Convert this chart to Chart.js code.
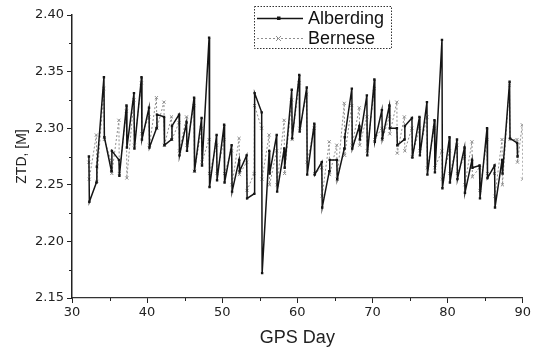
<!DOCTYPE html>
<html>
<head>
<meta charset="utf-8">
<script src="https://cdn.jsdelivr.net/npm/chart.js@4/dist/chart.umd.min.js"></script>
<style>
html,body{margin:0;padding:0;background:#fff;}
#c{display:block;}
</style>
</head>
<body>
<canvas id="c" width="533" height="349"></canvas>
<script>
// ---- data ----
const seriesNames = ["Alberding", "Bernese"];
const xTickLabels = [30, 40, 50, 60, 70, 80, 90];
const yTickLabels = [2.15, 2.20, 2.25, 2.30, 2.35, 2.40];

const albDays = [32,33,34,35,36,37,38,39,40,41,42,43,44,45,46,47,48,49,50,51,52,53,54,55,56,57,58,59,60,61,62,63,64,65,66,67,68,69,70,71,72,73,74,75,76,77,78,79,80,81,82,83,84,85,86,87,88,89];
const albStart = [2.275,2.252,2.345,2.262,2.272,2.320,2.331,2.345,2.318,2.300,2.310,2.290,2.312,2.305,2.327,2.309,2.380,2.294,2.303,2.285,2.272,2.276,2.242,2.314,2.280,2.294,2.282,2.334,2.347,2.336,2.304,2.270,2.262,2.272,2.282,2.335,2.302,2.329,2.343,2.316,2.320,2.300,2.290,2.309,2.310,2.323,2.307,2.378,2.292,2.290,2.283,2.272,2.267,2.300,2.267,2.272,2.341,2.287];
const albEnd   = [2.235,2.266,2.292,2.280,2.258,2.283,2.282,2.290,2.283,2.312,2.285,2.302,2.276,2.280,2.262,2.267,2.248,2.254,2.252,2.244,2.262,2.238,2.331,2.172,2.260,2.244,2.265,2.291,2.297,2.259,2.259,2.230,2.272,2.255,2.292,2.282,2.290,2.276,2.288,2.291,2.300,2.285,2.302,2.274,2.276,2.259,2.261,2.247,2.252,2.255,2.243,2.265,2.238,2.256,2.230,2.260,2.291,2.275];

const berDays = [32,33,34,35,36,37,38,39,40,41,42,43,44,45,46,47,48,49,50,51,52,53,54,55,56,57,58,59,60,61,62,63,64,65,66,67,68,69,70,71,72,73,74,75,76,77,78,79,80,81,82,83,84,85,86,87,88,89,89.7];
const berStart = [2.270,2.294,2.335,2.270,2.307,2.315,2.325,2.340,2.310,2.327,2.323,2.310,2.305,2.310,2.320,2.300,2.290,2.285,2.290,2.280,2.291,2.270,2.260,2.300,2.294,2.280,2.307,2.325,2.340,2.330,2.300,2.265,2.288,2.285,2.322,2.320,2.318,2.310,2.335,2.300,2.310,2.323,2.310,2.300,2.300,2.310,2.300,2.280,2.280,2.285,2.275,2.288,2.265,2.290,2.260,2.290,2.338,2.290,2.303];
const berEnd   = [2.255,2.253,2.290,2.260,2.260,2.256,2.285,2.295,2.285,2.300,2.285,2.290,2.280,2.285,2.262,2.270,2.260,2.260,2.260,2.250,2.259,2.245,2.320,2.255,2.250,2.250,2.260,2.290,2.300,2.270,2.260,2.240,2.259,2.255,2.276,2.285,2.285,2.280,2.290,2.290,2.295,2.278,2.280,2.275,2.280,2.265,2.265,2.255,2.260,2.260,2.250,2.257,2.245,2.260,2.240,2.250,2.290,2.270,2.255];

// ---- build point lists (two samples per day: first and last of the day) ----
function build(days, a, b, off) {
  const pts = [];
  for (let i = 0; i < days.length; i++) {
    pts.push({x: days[i] + off, y: a[i]});
    pts.push({x: days[i] + off + 0.06, y: b[i]});
  }
  return pts;
}
const albPts = build(albDays, albStart, albEnd, 0.25);
const berPts = build(berDays, berStart, berEnd, 0.24);

const ALB = '#151515', BER = '#8e8e8e';

const minorTicks = {
  id: 'minorTicks',
  afterDraw(chart) {
    const ctx = chart.ctx, xs = chart.scales.x, ys = chart.scales.y;
    ctx.save();
    ctx.strokeStyle = '#222';
    ctx.lineWidth = 1;
    for (let i = 0; i < xTickLabels.length - 1; i++) {
      const v = (xTickLabels[i] + xTickLabels[i + 1]) / 2;
      const px = Math.round(xs.getPixelForValue(v)) + 0.5;
      ctx.beginPath(); ctx.moveTo(px, ys.bottom); ctx.lineTo(px, ys.bottom + 3); ctx.stroke();
    }
    for (let i = 0; i < yTickLabels.length - 1; i++) {
      const v = (yTickLabels[i] + yTickLabels[i + 1]) / 2;
      const py = Math.round(ys.getPixelForValue(v)) + 0.5;
      ctx.beginPath(); ctx.moveTo(xs.left, py); ctx.lineTo(xs.left - 3, py); ctx.stroke();
    }
    // legend box
    const bx = 254, by = 6, bw = 137, bh = 42;
    ctx.setLineDash([1.5, 1.5]);
    ctx.strokeStyle = '#333';
    ctx.strokeRect(bx + 0.5, by + 0.5, bw, bh);
    ctx.setLineDash([]);
    const rows = [
      {y: 18, color: ALB, dash: [], w: 1.5, label: seriesNames[0], marker: 'rect'},
      {y: 38, color: BER, dash: [2, 2], w: 1, label: seriesNames[1], marker: 'cross'}
    ];
    rows.forEach(r => {
      ctx.strokeStyle = r.color; ctx.lineWidth = r.w; ctx.setLineDash(r.dash);
      ctx.beginPath(); ctx.moveTo(257, r.y + 0.5); ctx.lineTo(303, r.y + 0.5); ctx.stroke();
      ctx.setLineDash([]);
      if (r.marker === 'rect') { ctx.fillStyle = r.color; ctx.fillRect(277, r.y - 1.5, 3.5, 3.5); }
      else { ctx.lineWidth = 1; ctx.beginPath(); ctx.moveTo(276, r.y - 2); ctx.lineTo(281, r.y + 3); ctx.moveTo(281, r.y - 2); ctx.lineTo(276, r.y + 3); ctx.stroke(); }
      ctx.fillStyle = '#111';
      ctx.font = '18px "Liberation Sans", Arial, sans-serif';
      ctx.textBaseline = 'middle';
      ctx.fillText(r.label, 308, r.y + 1);
    });
    ctx.restore();
  }
};

new Chart(document.getElementById('c'), {
  type: 'scatter',
  data: {
    datasets: [
      {label: seriesNames[0], data: albPts, showLine: true, borderColor: ALB, backgroundColor: ALB,
       borderWidth: 1.5, pointStyle: 'rect', pointRadius: 1.7, pointBorderWidth: 0, order: 0},
      {label: seriesNames[1], data: berPts, showLine: true, borderColor: BER, backgroundColor: BER,
       borderWidth: 1, borderDash: [2, 2], pointStyle: 'crossRot', pointRadius: 2.2, pointBorderWidth: 1, order: 1}
    ]
  },
  options: {
    responsive: false,
    animation: false,
    devicePixelRatio: 1,
    layout: {padding: {left: 0, right: 10, top: 15, bottom: 0}},
    plugins: {legend: {display: false}, tooltip: {enabled: false}},
    scales: {
      x: {
        type: 'linear', min: 30, max: 90,
        afterBuildTicks: s => { s.ticks = xTickLabels.map(v => ({value: v})); },
        afterFit: s => { s.height = 51; },
        grid: {drawOnChartArea: false, drawTicks: true, tickLength: 5, tickColor: '#222'},
        border: {display: true, color: '#333', width: 1.2},
        ticks: {color: '#222', font: {family: '"DejaVu Sans", Verdana, sans-serif', size: 13}, padding: 2, maxRotation: 0},
        title: {display: true, text: 'GPS Day', color: '#222', font: {family: '"Liberation Sans", Arial, sans-serif', size: 18}, padding: {top: 0, bottom: 0}}
      },
      y: {
        type: 'linear', min: 2.15, max: 2.40,
        afterBuildTicks: s => { s.ticks = yTickLabels.map(v => ({value: v})); },
        afterFit: s => { s.width = 72; },
        grid: {drawOnChartArea: false, drawTicks: true, tickLength: 5, tickColor: '#222'},
        border: {display: true, color: '#222', width: 1.5},
        ticks: {color: '#222', font: {family: '"DejaVu Sans", Verdana, sans-serif', size: 13}, padding: 3,
                callback: v => Number(v).toFixed(2)},
        title: {display: true, text: 'ZTD, [M]', color: '#222', font: {family: '"Liberation Sans", Arial, sans-serif', size: 14}, padding: {top: 14, bottom: 0}}
      }
    }
  },
  plugins: [minorTicks]
});
</script>
</body>
</html>
